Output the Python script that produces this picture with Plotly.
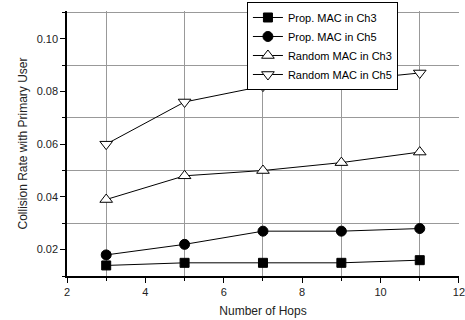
import plotly.graph_objects as go

hops = [3, 5, 7, 9, 11]
prop_ch3 = [0.014, 0.015, 0.015, 0.015, 0.016]
prop_ch5 = [0.018, 0.022, 0.027, 0.027, 0.028]
rand_ch3 = [0.039, 0.048, 0.050, 0.053, 0.057]
rand_ch5 = [0.060, 0.076, 0.082, 0.084, 0.087]
x_ticks = [2, 4, 6, 8, 10, 12]

names = ["Prop. MAC in Ch3", "Prop. MAC in Ch5", "Random MAC in Ch3", "Random MAC in Ch5"]
series = [prop_ch3, prop_ch5, rand_ch3, rand_ch5]
symbols = ["square", "circle", "triangle-up", "triangle-down"]
fills = ["black", "black", "white", "white"]
sizes = [9, 10, 11, 11]

fig = go.Figure()
for n, s, sym, fc, sz in zip(names, series, symbols, fills, sizes):
    fig.add_trace(go.Scatter(
        x=hops, y=s, name=n, mode="lines+markers",
        line=dict(color="black", width=1),
        marker=dict(symbol=sym, size=sz, color=fc, line=dict(color="black", width=1)),
    ))

axis_common = dict(
    showline=True, linecolor="black", linewidth=1.5,
    ticks="outside", ticklen=5, tickwidth=1.2, tickcolor="black",
    showgrid=False, zeroline=False, automargin=False, ticklabeloverflow="allow",
    tickfont=dict(family="Liberation Sans, Arial", size=11, color="#222"),
    title_font=dict(family="Liberation Sans, Arial", size=12, color="#222"),
)

fig.update_xaxes(range=[2, 12.001], tickmode="array", tickvals=x_ticks,
                 ticktext=[str(v) for v in x_ticks], title_text="Number of Hops",
                 minor=dict(tick0=3, dtick=2, showgrid=True, gridcolor="#999", gridwidth=1,
                            ticks="outside", ticklen=3, tickcolor="black"),
                 title_standoff=10, **axis_common)
fig.update_yaxes(range=[0.01, 0.1105], tick0=0.02, dtick=0.02, tickformat=".2f",
                 title_text="Collision Rate with Primary User",
                 minor=dict(tick0=0.01, dtick=0.02, showgrid=True, gridcolor="#999", gridwidth=1,
                            ticks="outside", ticklen=3, tickcolor="black"),
                 title_standoff=6, **axis_common)

fig.update_layout(
    width=465, height=320,
    margin=dict(l=67, r=6, t=11, b=44, autoexpand=False),
    plot_bgcolor="white", paper_bgcolor="white",
    font=dict(family="Liberation Sans, Arial", size=11, color="black"),
    legend=dict(x=0.459, y=1.034, xanchor="left", yanchor="top",
                bgcolor="white", bordercolor="black", borderwidth=1,
                font=dict(size=11, color="black"), tracegroupgap=0,
                itemwidth=30),
    showlegend=True,
)

fig.write_html("out.html", config={"displayModeBar": False},
               post_script="document.body.style.margin='0';")
